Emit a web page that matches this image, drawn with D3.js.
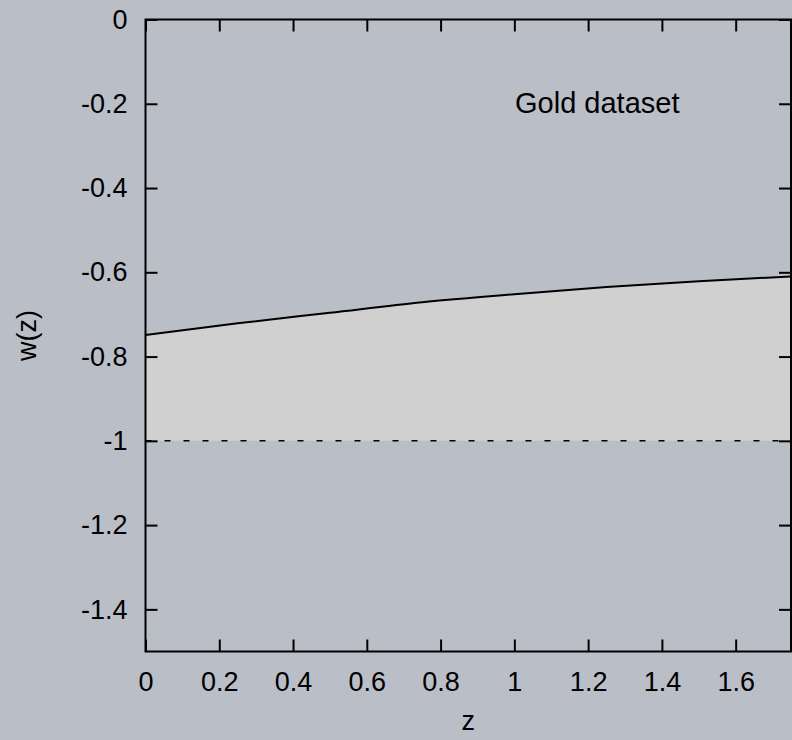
<!DOCTYPE html>
<html>
<head>
<meta charset="utf-8">
<script src="https://cdn.jsdelivr.net/npm/d3@7"></script>
<style>
  html, body { margin: 0; padding: 0; background: #babec7; }
  svg { display: block; }
  text { font-family: "Liberation Sans", Arial, Helvetica, sans-serif; fill: #000; }
</style>
</head>
<body>
<svg id="chart" width="792" height="740"></svg>
<script>
// Redshift samples and the reconstructed equation of state w(z)
const zValues = [0, 0.25, 0.5, 0.75, 1.0, 1.25, 1.5, 1.75];
const wValues = [-0.749, -0.721, -0.696, -0.671, -0.652, -0.635, -0.621, -0.610];
// Cosmological-constant reference level
const lambdaW = -1;

const xTicks = [0, 0.2, 0.4, 0.6, 0.8, 1, 1.2, 1.4, 1.6];
const yTicks = [0, -0.2, -0.4, -0.6, -0.8, -1, -1.2, -1.4];
const xDomain = [0, 1.75];
const yDomain = [-1.5, 0];

const datasetLabel = "Gold dataset";
const xTitle = "z";
const yTitle = "w(z)";

const W = 792, H = 740;
const margin = { left: 145.5, right: 1, top: 19.5, bottom: 88.5 };

const svg = d3.select("#chart");
const x = d3.scaleLinear().domain(xDomain).range([margin.left, W - margin.right]);
const y = d3.scaleLinear().domain(yDomain).range([H - margin.bottom, margin.top]);

const pts = zValues.map((z, i) => ({ z, w: wValues[i] }));

// shaded band between w(z) and w = -1
const area = d3.area()
  .x(d => x(d.z))
  .y0(y(lambdaW))
  .y1(d => y(d.w))
  .curve(d3.curveMonotoneX);
svg.append("path").datum(pts)
  .attr("d", area)
  .attr("fill", "#d0d0d0");

// w(z) curve
const line = d3.line()
  .x(d => x(d.z))
  .y(d => y(d.w))
  .curve(d3.curveMonotoneX);
svg.append("path").datum(pts)
  .attr("d", line)
  .attr("fill", "none")
  .attr("stroke", "#000")
  .attr("stroke-width", 2);

// w = -1 reference
svg.append("line")
  .attr("x1", x(xDomain[0])).attr("x2", x(xDomain[1]))
  .attr("y1", y(lambdaW)).attr("y2", y(lambdaW))
  .attr("stroke", "#000")
  .attr("stroke-width", 1.5)
  .attr("stroke-dasharray", "6,13");

// axes with inward ticks on all four sides
const fs = 27;
function styleAxis(g) {
  g.select(".domain").remove();
  g.selectAll(".tick line").attr("stroke", "#000").attr("stroke-width", 2);
  g.selectAll(".tick text").attr("font-size", fs).attr("font-family", "Liberation Sans, Arial, sans-serif");
}
const fmt = d => String(d);

svg.append("g")
  .attr("transform", `translate(0,${y(yDomain[0])})`)
  .call(d3.axisBottom(x).tickValues(xTicks).tickFormat(fmt).tickSize(-12).tickPadding(20))
  .call(styleAxis);
svg.append("g")
  .attr("transform", `translate(0,${y(yDomain[1])})`)
  .call(d3.axisTop(x).tickValues(xTicks).tickFormat("").tickSize(-12))
  .call(styleAxis);
svg.append("g")
  .attr("transform", `translate(${x(xDomain[0])},0)`)
  .call(d3.axisLeft(y).tickValues(yTicks).tickFormat(fmt).tickSize(-12).tickPadding(18))
  .call(styleAxis);
svg.append("g")
  .attr("transform", `translate(${x(xDomain[1])},0)`)
  .call(d3.axisRight(y).tickValues(yTicks).tickFormat("").tickSize(-12))
  .call(styleAxis);

// frame
svg.append("rect")
  .attr("x", x(xDomain[0])).attr("y", y(yDomain[1]))
  .attr("width", x(xDomain[1]) - x(xDomain[0]))
  .attr("height", y(yDomain[0]) - y(yDomain[1]))
  .attr("fill", "none")
  .attr("stroke", "#000")
  .attr("stroke-width", 2);

// labels
svg.append("text")
  .attr("x", 515).attr("y", 113)
  .attr("font-size", 29)
  .text(datasetLabel);

svg.append("text")
  .attr("x", (x(xDomain[0]) + x(xDomain[1])) / 2)
  .attr("y", 730)
  .attr("text-anchor", "middle")
  .attr("font-size", fs)
  .text(xTitle);

svg.append("text")
  .attr("transform", `translate(36,${(y(yDomain[0]) + y(yDomain[1])) / 2}) rotate(-90)`)
  .attr("text-anchor", "middle")
  .attr("font-size", fs)
  .text(yTitle);
</script>
</body>
</html>
